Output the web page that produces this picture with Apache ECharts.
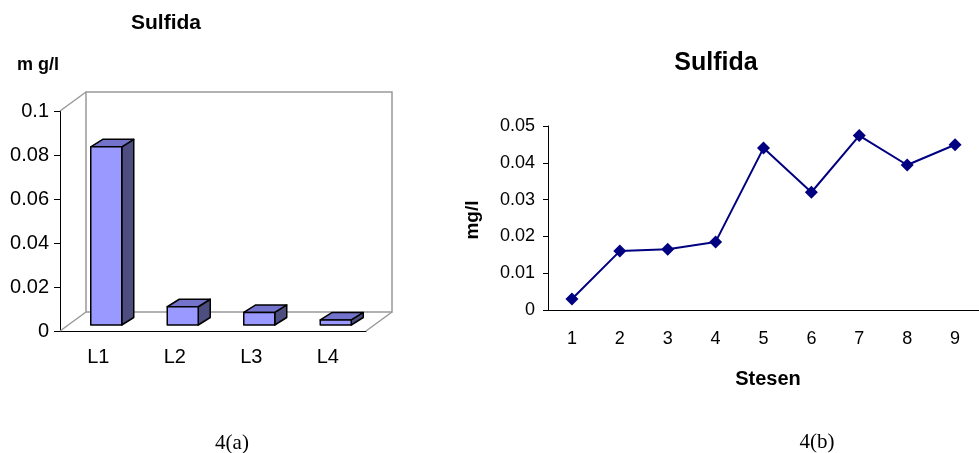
<!DOCTYPE html>
<html>
<head>
<meta charset="utf-8">
<script src="https://cdn.jsdelivr.net/npm/echarts@6/dist/echarts.min.js"></script>
<style>html,body{margin:0;padding:0;background:#fff}#c{width:979px;height:453px}</style>
</head>
<body>
<div id="c"></div>
<script>
// ---- data ----
const barCategories = ['L1', 'L2', 'L3', 'L4'];
const barValues = [0.081, 0.0083, 0.0057, 0.0023];
const lineCategories = ['1', '2', '3', '4', '5', '6', '7', '8', '9'];
const lineValues = [0.003, 0.016, 0.0165, 0.0185, 0.044, 0.032, 0.0474, 0.0394, 0.0449];

const FONT = "'Liberation Sans', Arial, sans-serif";
const DEPTH_X = 26, DEPTH_Y = -19;   // 3D wall depth
const BAR_DX = 12, BAR_DY = -7.5;    // bar depth
const BAR_OFF_X = 8, BAR_OFF_Y = -6; // bar placement inside the depth
const BAR_W = 31;

const chart = echarts.init(document.getElementById('c'), null, {renderer: 'canvas'});

function wallRender(params, api) {
  const r = params.coordSys;
  const x0 = r.x, y0 = r.y, x1 = r.x + r.width, y1 = r.y + r.height;
  const st = {stroke: '#999999', lineWidth: 1.5, fill: null};
  return {
    type: 'group',
    children: [
      {type: 'rect', shape: {x: x0 + DEPTH_X, y: y0 + DEPTH_Y, width: r.width, height: r.height}, style: {stroke: '#999999', lineWidth: 1.5, fill: 'none'}},
      {type: 'line', shape: {x1: x0, y1: y0, x2: x0 + DEPTH_X, y2: y0 + DEPTH_Y}, style: st},
      {type: 'line', shape: {x1: x0, y1: y1, x2: x0 + DEPTH_X, y2: y1 + DEPTH_Y}, style: st},
      {type: 'line', shape: {x1: x1, y1: y1, x2: x1 + DEPTH_X, y2: y1 + DEPTH_Y}, style: st}
    ]
  };
}

function barRender(params, api) {
  const base = api.coord([api.value(0), 0]);
  const top = api.coord([api.value(0), api.value(1)]);
  const cx = base[0] + BAR_OFF_X;
  const xa = cx - BAR_W / 2, xb = cx + BAR_W / 2;
  const yb = base[1] + BAR_OFF_Y, yt = top[1] + BAR_OFF_Y;
  const line = {stroke: '#000', lineWidth: 1.5, lineJoin: 'round'};
  return {
    type: 'group',
    children: [
      {type: 'polygon', shape: {points: [[xb, yt], [xb + BAR_DX, yt + BAR_DY], [xb + BAR_DX, yb + BAR_DY], [xb, yb]]}, style: Object.assign({fill: '#4d4d80'}, line)},
      {type: 'polygon', shape: {points: [[xa, yt], [xa + BAR_DX, yt + BAR_DY], [xb + BAR_DX, yt + BAR_DY], [xb, yt]]}, style: Object.assign({fill: '#7373cc'}, line)},
      {type: 'polygon', shape: {points: [[xa, yt], [xb, yt], [xb, yb], [xa, yb]]}, style: Object.assign({fill: '#9999ff'}, line)}
    ]
  };
}

const option = {
  animation: false,
  backgroundColor: '#ffffff',
  grid: [
    {left: 60, top: 111, width: 306, height: 220},
    {left: 548, top: 126, width: 437, height: 184}
  ],
  xAxis: [
    {
      gridIndex: 0, type: 'category', data: barCategories,
      axisLine: {lineStyle: {color: '#000', width: 1}},
      axisTick: {length: 6, lineStyle: {color: '#000'}},
      axisLabel: {color: '#000', fontSize: 20, fontFamily: FONT, margin: 16},
      splitLine: {show: false}
    },
    {
      gridIndex: 1, type: 'category', data: lineCategories,
      axisLine: {lineStyle: {color: '#000', width: 1}},
      axisTick: {length: 5, lineStyle: {color: '#000'}},
      axisLabel: {color: '#000', fontSize: 18, fontFamily: FONT, margin: 20},
      splitLine: {show: false}
    }
  ],
  yAxis: [
    {
      gridIndex: 0, type: 'value', min: 0, max: 0.1, interval: 0.02,
      axisLine: {show: true, lineStyle: {color: '#000', width: 1}},
      axisTick: {show: true, length: 6, lineStyle: {color: '#000'}},
      axisLabel: {color: '#000', fontSize: 20, fontFamily: FONT, margin: 11},
      splitLine: {show: false}
    },
    {
      gridIndex: 1, type: 'value', min: 0, max: 0.05, interval: 0.01,
      axisLine: {show: true, lineStyle: {color: '#000', width: 1}},
      axisTick: {show: true, length: 5, lineStyle: {color: '#000'}},
      axisLabel: {color: '#000', fontSize: 18, fontFamily: FONT, margin: 13},
      splitLine: {show: false}
    }
  ],
  series: [
    {
      type: 'custom', xAxisIndex: 0, yAxisIndex: 0, z: 1, silent: true,
      renderItem: wallRender, data: [[0, 0]], clip: false
    },
    {
      type: 'custom', xAxisIndex: 0, yAxisIndex: 0, z: 3,
      renderItem: barRender, clip: false,
      data: barValues.map((v, i) => [i, v])
    },
    {
      type: 'line', xAxisIndex: 1, yAxisIndex: 1,
      data: lineValues,
      symbol: 'diamond', symbolSize: 13, showAllSymbol: true,
      lineStyle: {color: '#000080', width: 2},
      itemStyle: {color: '#000080'}
    }
  ],
  graphic: [
    {type: 'text', x: 166, y: 23, style: {text: 'Sulfida', fontFamily: FONT, fontWeight: 'bold', fontSize: 21, fill: '#000', textAlign: 'center', textVerticalAlign: 'middle'}},
    {type: 'text', x: 38, y: 65, style: {text: 'm g/l', fontFamily: FONT, fontWeight: 'bold', fontSize: 18, fill: '#000', textAlign: 'center', textVerticalAlign: 'middle'}},
    {type: 'text', x: 716, y: 63, style: {text: 'Sulfida', fontFamily: FONT, fontWeight: 'bold', fontSize: 25, fill: '#000', textAlign: 'center', textVerticalAlign: 'middle'}},
    {type: 'text', x: 473, y: 220, rotation: Math.PI / 2, style: {text: 'mg/l', fontFamily: FONT, fontWeight: 'bold', fontSize: 19, fill: '#000', textAlign: 'center', textVerticalAlign: 'middle'}},
    {type: 'text', x: 768, y: 379, style: {text: 'Stesen', fontFamily: FONT, fontWeight: 'bold', fontSize: 20, fill: '#000', textAlign: 'center', textVerticalAlign: 'middle'}},
    {type: 'text', x: 232, y: 443, style: {text: '4(a)', fontFamily: "'Liberation Serif', 'Times New Roman', serif", fontSize: 21, fill: '#000', textAlign: 'center', textVerticalAlign: 'middle'}},
    {type: 'text', x: 817, y: 442, style: {text: '4(b)', fontFamily: "'Liberation Serif', 'Times New Roman', serif", fontSize: 21, fill: '#000', textAlign: 'center', textVerticalAlign: 'middle'}}
  ]
};
chart.setOption(option);
</script>
</body>
</html>
